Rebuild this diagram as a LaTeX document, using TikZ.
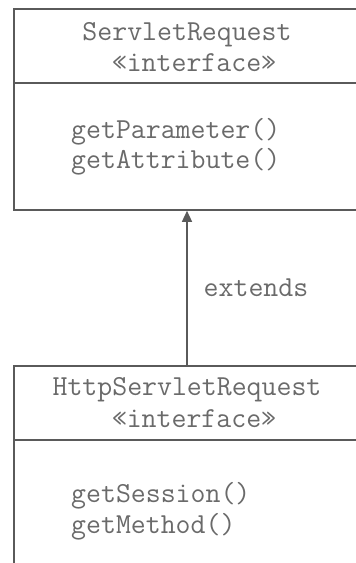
\documentclass[tikz,border=0pt]{standalone}
\usepackage{fontspec}
\usepackage{tikz}
\usetikzlibrary{positioning}
\usetikzlibrary{arrows.meta}
\definecolor{linegray}{HTML}{5A5A5A}
\definecolor{textgray}{HTML}{6A6A6A}
\tikzset{
    umlbox/.style={draw=linegray, line width=1.6pt, minimum width=346pt, inner sep=0pt},
    umltext/.style={text=textgray, font=\ttfamily\fontsize{29}{30}\selectfont, inner sep=0pt},
    extendsarrow/.style={draw=linegray, line width=1.4pt, -{Triangle[width=10pt,length=11pt]}}
}

\begin{document}
\begin{tikzpicture}[x=1pt, y=-1pt]
        \useasboundingbox (0,0) rectangle (356,563);
        \clip (0,0) rectangle (356,563);

        % Class boxes (cut off on the right and at the bottom)
        \node[umlbox, minimum height=201pt] (request) at (187,109.5) {};
        \node[umlbox, minimum height=254pt] (httprequest) at (187,493) {};

        % Dividers
        \draw[linegray, line width=1.6pt] (request.west |- 0,83) -- (request.east |- 0,83);
        \draw[linegray, line width=1.6pt] (httprequest.west |- 0,440) -- (httprequest.east |- 0,440);

        % Names and stereotypes
        \node[umltext, anchor=base] (requestname) at (187,40) {ServletRequest};
        \node[umltext, anchor=base] (requeststereo) at (194,71) {«interface»};
        \node[umltext, anchor=base] (httpname) at (187,395) {HttpServletRequest};
        \node[umltext, anchor=base] (httpstereo) at (194,427) {«interface»};

        % Methods
        \node[umltext, anchor=base west] (getparam) at (71,138) {getParameter()};
        \node[umltext, anchor=base west] (getattr) at (71,168) {getAttribute()};
        \node[umltext, anchor=base west] (getsession) at (71,502) {getSession()};
        \node[umltext, anchor=base west] (getmethod) at (71,533) {getMethod()};

        % Inheritance
        \draw[extendsarrow] (httprequest.north) -- (request.south)
            node[umltext, midway, anchor=west, xshift=16pt] (extendslabel) {extends};
\end{tikzpicture}
\end{document}
